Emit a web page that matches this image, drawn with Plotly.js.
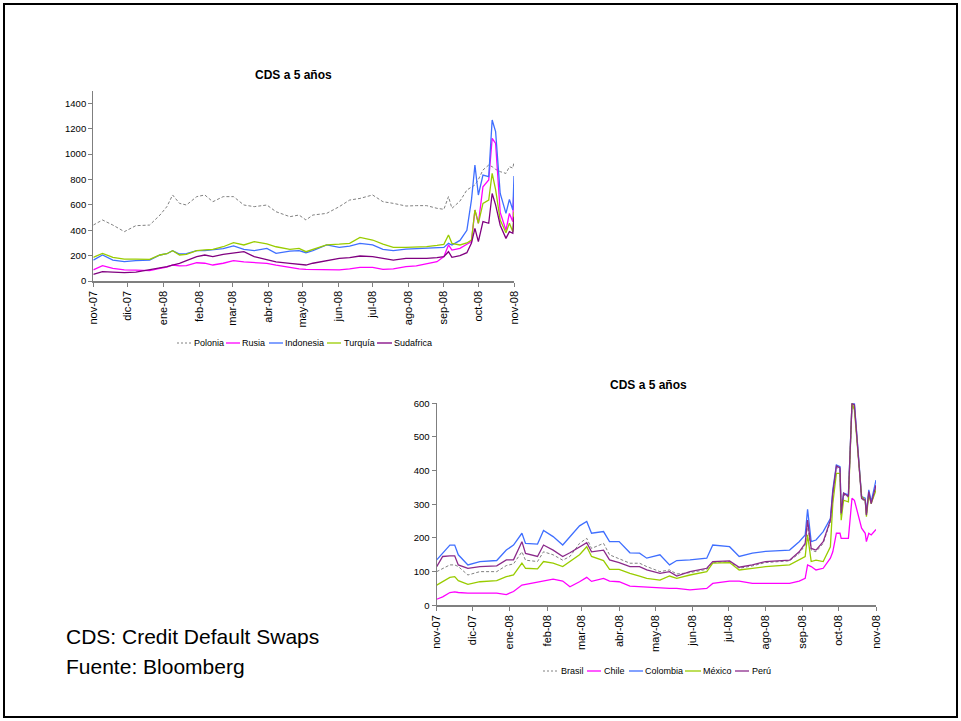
<!DOCTYPE html>
<html>
<head>
<meta charset="utf-8">
<script src="https://cdn.plot.ly/plotly-3.0.1.min.js"></script>
<style>html,body{margin:0;padding:0;background:#fff;}#chart{width:961px;height:721px;}</style>
</head>
<body>
<div id="chart"></div>
<script>
// ---------- DATA ----------
var monthTicks = ['2007-11-01','2007-12-01','2008-01-01','2008-02-01','2008-03-01','2008-04-01','2008-05-01','2008-06-01','2008-07-01','2008-08-01','2008-09-01','2008-10-01','2008-11-01'];
var monthLabels = ['nov-07','dic-07','ene-08','feb-08','mar-08','abr-08','may-08','jun-08','jul-08','ago-08','sep-08','oct-08','nov-08'];

var dates1 = ['2007-11-01','2007-11-09','2007-11-18','2007-11-28','2007-12-08','2007-12-20','2007-12-29','2008-01-04','2008-01-09','2008-01-15',
  '2008-01-21','2008-01-30','2008-02-06','2008-02-13','2008-02-22','2008-03-02','2008-03-11','2008-03-20','2008-03-31','2008-04-08',
  '2008-04-20','2008-04-28','2008-05-04','2008-05-10','2008-05-22','2008-06-02','2008-06-11','2008-06-20','2008-07-01','2008-07-10',
  '2008-07-19','2008-07-30','2008-08-08','2008-08-17','2008-08-26','2008-09-01','2008-09-05','2008-09-08','2008-09-15','2008-09-21',
  '2008-09-25','2008-09-28','2008-10-01','2008-10-05','2008-10-10','2008-10-13','2008-10-16','2008-10-20','2008-10-25','2008-10-28',
  '2008-10-31','2008-11-01'];
var polonia = [441,481,441,389,436,441,520,586,678,612, 599,665,678,625,665,665,599,586,599,546, 507,520,481,520,533,586,638,651,678,625,
  612,591,594,594,573,565,665,573,630,717, 740,757,800,875,914,901,880,862,848,901, 890,940];
var rusia = [87,121,100,87,85,81,100,110,126,120, 121,144,140,126,140,160,150,144,139,125, 105,95,92,92,92,87,95,108,108,92,
  95,113,120,134,152,192,284,244,257,290, 310,560,455,743,796,1124,1085,540,400,533, 468,760];
var indonesia = [165,205,165,152,160,165,205,215,239,213, 215,239,240,244,255,276,250,239,257,218, 235,239,223,240,284,265,275,297,284,250,
  239,252,255,257,262,265,297,284,320,400, 640,914,678,835,822,1269,1177,690,533,643, 560,827];
var turquia = [187,218,187,173,172,171,205,215,239,205, 210,239,245,250,270,302,284,310,292,270, 250,257,231,250,284,290,297,344,323,290,
  265,265,268,271,280,289,362,297,284,300, 323,560,455,612,638,848,720,480,380,455, 389,546];
var sudafrica = [53,74,70,66,70,87,100,113,125,139, 160,192,205,192,210,223,231,192,165,150, 139,134,126,140,160,179,185,197,192,180,
  165,179,179,179,185,192,231,187,200,223, 300,415,310,468,455,690,600,440,336,389, 376,507];

var dates2 = ['2007-11-01','2007-11-06','2007-11-12','2007-11-16','2007-11-19','2007-11-27','2007-12-07','2007-12-21','2007-12-29','2008-01-04',
  '2008-01-11','2008-01-14','2008-01-24','2008-01-29','2008-02-06','2008-02-14','2008-02-20','2008-02-28','2008-03-05','2008-03-09',
  '2008-03-19','2008-03-24','2008-04-01','2008-04-10','2008-04-18','2008-04-24','2008-05-05','2008-05-13','2008-05-19','2008-05-30',
  '2008-06-13','2008-06-18','2008-07-02','2008-07-10','2008-07-21','2008-08-01','2008-08-21','2008-08-29','2008-09-03','2008-09-05',
  '2008-09-08','2008-09-12','2008-09-18','2008-09-24','2008-09-26','2008-09-29','2008-10-02','2008-10-03','2008-10-05','2008-10-09',
  '2008-10-12','2008-10-14','2008-10-20','2008-10-23','2008-10-24','2008-10-26','2008-10-28','2008-11-01'];
var brasil = [100,110,120,120,115,90,100,100,118,123, 159,134,130,159,150,134,145,184,199,169, 184,150,139,125,125,115,100,105,93,97,
  107,127,130,110,117,127,132,154,179,239, 164,159,184,248,328,410,404,268,328,321, 595,590,315,310,268,335,302,352];
var chile = [18,25,38,40,38,36,36,36,32,41, 60,62,70,72,78,72,55,70,83,71, 80,72,70,57,55,53,50,50,50,46,
  50,65,72,72,65,65,65,72,80,120, 115,105,110,140,159,214,214,199,199,199, 318,312,229,214,189,214,209,225];
var colombia = [135,155,179,179,150,120,130,133,164,179, 214,184,182,222,204,179,204,236,249,214, 219,189,189,156,155,140,150,120,133,135,
  140,179,174,145,155,160,164,189,209,285, 189,194,219,258,343,417,412,273,333,328, 600,600,323,318,273,343,308,372];
var mexico = [60,70,83,85,73,62,70,73,85,90, 125,110,108,130,125,115,130,150,174,145, 133,107,107,95,87,80,75,87,80,90,
  100,125,127,105,110,115,120,134,145,209, 130,134,130,174,302,392,392,253,312,307, 600,580,323,312,263,328,302,342];
var peru = [115,145,147,147,120,110,115,117,135,135, 189,154,145,179,164,145,156,174,186,159, 164,135,127,115,115,105,95,100,87,100,
  110,130,132,113,120,130,134,159,184,253, 169,164,189,253,333,414,408,273,333,323, 600,595,318,312,268,338,302,357];

var names1 = ['Polonia','Rusia','Indonesia','Turquía','Sudafrica'];
var names2 = ['Brasil','Chile','Colombia','México','Perú'];
var yTicks1 = [0,200,400,600,800,1000,1200,1400];
var yTicks2 = [0,100,200,300,400,500,600];
var chartTitle = 'CDS a 5 años';
var notes = ['CDS: Credit Default Swaps','Fuente: Bloomberg'];

// ---------- STYLE ----------
var W = 961, H = 721;
function px(x){ return x / W; }
function py(y){ return 1 - y / H; }
var styles1 = [
  {color:'#808080', dash:'3px,2px', width:1},
  {color:'#FF00FF', dash:'solid', width:1.3},
  {color:'#3F6FFF', dash:'solid', width:1.3},
  {color:'#99CC00', dash:'solid', width:1.3},
  {color:'#800080', dash:'solid', width:1.3}
];
var styles2 = [
  {color:'#808080', dash:'3px,2px', width:1},
  {color:'#FF00FF', dash:'solid', width:1.3},
  {color:'#3F6FFF', dash:'solid', width:1.3},
  {color:'#99CC00', dash:'solid', width:1.3},
  {color:'#8B2A8B', dash:'solid', width:1.3}
];
var font = '"Liberation Sans", Arial, sans-serif';

var series1 = [polonia, rusia, indonesia, turquia, sudafrica];
var series2 = [brasil, chile, colombia, mexico, peru];
var traces = [];
series1.forEach(function(s, i){
  traces.push({x: dates1, y: s, type:'scatter', mode:'lines', name: names1[i], xaxis:'x', yaxis:'y',
    line:{color:styles1[i].color, dash:styles1[i].dash, width:styles1[i].width}, showlegend:false, hoverinfo:'x+y+name'});
});
series2.forEach(function(s, i){
  traces.push({x: dates2, y: s, type:'scatter', mode:'lines', name: names2[i], xaxis:'x2', yaxis:'y2',
    line:{color:styles2[i].color, dash:styles2[i].dash, width:styles2[i].width}, showlegend:false, hoverinfo:'x+y+name'});
});

function xAxis(domain, anchor){
  return {domain: domain, anchor: anchor, type:'date', range:['2007-11-01','2008-11-01'],
    tickmode:'array', tickvals: monthTicks, ticktext: monthLabels, tickangle:-90,
    ticks:'outside', ticklen:4, tickcolor:'#7f7f7f', showline:true, linecolor:'#7f7f7f', linewidth:1.5,
    showgrid:false, zeroline:false, automargin:false, fixedrange:true,
    tickfont:{family: font, size:11, color:'#000'}};
}
function yAxis(domain, anchor, range, ticks){
  return {domain: domain, anchor: anchor, range: range, tickmode:'array', tickvals: ticks,
    ticks:'outside', ticklen:4, tickcolor:'#7f7f7f', showline:true, linecolor:'#7f7f7f', linewidth:1.2,
    showgrid:false, zeroline:false, automargin:false, fixedrange:true,
    tickfont:{family: font, size:9.5, color:'#000'}};
}

var shapes = [{type:'rect', xref:'paper', yref:'paper', x0:px(4), x1:px(957), y0:py(717), y1:py(4),
  line:{color:'#000', width:2}, fillcolor:'rgba(0,0,0,0)'}];
var annotations = [
  {text:'<b>'+chartTitle+'</b>', xref:'paper', yref:'paper', x:px(293), y:py(75), showarrow:false,
    xanchor:'center', yanchor:'middle', font:{family:font, size:12, color:'#000'}},
  {text:'<b>'+chartTitle+'</b>', xref:'paper', yref:'paper', x:px(648), y:py(385), showarrow:false,
    xanchor:'center', yanchor:'middle', font:{family:font, size:12, color:'#000'}},
  {text:notes[0], xref:'paper', yref:'paper', x:px(64), y:py(636), showarrow:false,
    xanchor:'left', yanchor:'middle', font:{family:font, size:21, color:'#000'}},
  {text:notes[1], xref:'paper', yref:'paper', x:px(64), y:py(666), showarrow:false,
    xanchor:'left', yanchor:'middle', font:{family:font, size:21, color:'#000'}}
];
// custom legends (sample line + label)
var leg1 = [[177,191,192],[226,240,240],[269,283,283],[327,341,342],[377,392,392]];
var leg2 = [[543,557,559],[587,601,602],[629,643,643],[685,701,701],[735,749,750]];
function addLegend(pos, names, styles, yc){
  pos.forEach(function(p, i){
    shapes.push({type:'line', xref:'paper', yref:'paper', x0:px(p[0]), x1:px(p[1]), y0:py(yc), y1:py(yc),
      line:{color:styles[i].color, dash:styles[i].dash === 'solid' ? 'solid' : '2px,2px', width:styles[i].width}});
    annotations.push({text:names[i], xref:'paper', yref:'paper', x:px(p[2]), y:py(yc), showarrow:false,
      xanchor:'left', yanchor:'middle', font:{family:font, size:9, color:'#000'}});
  });
}
addLegend(leg1, names1, styles1, 343);
addLegend(leg2, names2, styles2, 671);

var layout = {
  width: W, height: H, margin:{l:0, r:0, t:0, b:0, pad:0},
  paper_bgcolor:'#fff', plot_bgcolor:'#fff', showlegend:false,
  xaxis: xAxis([px(93.3), px(514)], 'y'),
  yaxis: yAxis([py(281), py(90.7)], 'x', [0,1500], yTicks1),
  xaxis2: xAxis([px(436.7), px(876)], 'y2'),
  yaxis2: yAxis([py(605.3), py(403.3)], 'x2', [0,600], yTicks2),
  shapes: shapes, annotations: annotations
};
Plotly.newPlot('chart', traces, layout, {displayModeBar:false, staticPlot:true});
</script>
</body>
</html>
